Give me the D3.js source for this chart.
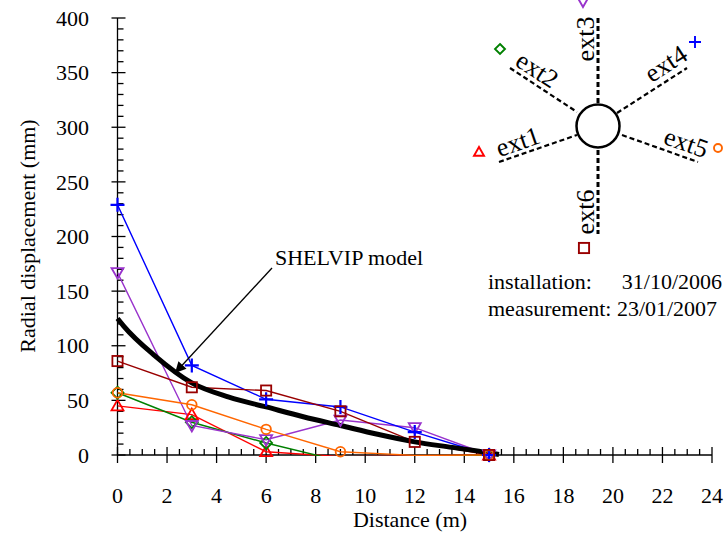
<!DOCTYPE html>
<html>
<head>
<meta charset="utf-8">
<script src="https://cdn.jsdelivr.net/npm/d3@7"></script>
<style>
  html, body { margin: 0; padding: 0; background: #fff; }
  svg { display: block; }
  text { font-family: "Liberation Serif", "Times New Roman", serif; fill: #000; }
</style>
</head>
<body>
<div id="chart"></div>
<script>
// ---------- data ----------
const distances = [0, 3, 6, 9, 12, 15];
const ext1 = [45, 37, 3, -1.5, -1, 0];
const ext2 = [57, 30, 11, -5.5, -2, 0];
const ext3 = [167, 27, 14, 32, 25, 0];
const ext4 = [229, 82, 51, 44, 21, 0];
const ext5 = [57, 46, 23.5, 3, -0.3, 0];
const ext6 = [86, 62, 59, 40, 12, 0];
const seriesNames = ["ext1", "ext2", "ext3", "ext4", "ext5", "ext6"];
const modelX = [0, 0.25, 1.5, 3, 4.5, 6, 7.5, 9, 10.5, 12, 13.5, 15, 15.4];
const modelY = [125, 118, 91, 66, 53, 44, 35, 27, 19, 12, 7, 2, 0.5];
const xTicks = [0, 2, 4, 6, 8, 10, 12, 14, 16, 18, 20, 22, 24];
const yTicks = [0, 50, 100, 150, 200, 250, 300, 350, 400];
const installation = "31/10/2006";
const measurement = "23/01/2007";

// ---------- styles ----------
const colors = { ext1: "#ff0000", ext2: "#008000", ext3: "#9933cc", ext4: "#0000ff", ext5: "#ff6600", ext6: "#990000" };
const shapes = { ext1: "triUp", ext2: "diamond", ext3: "triDown", ext4: "plus", ext5: "circle", ext6: "square" };
const values = { ext1, ext2, ext3, ext4, ext5, ext6 };

const W = 724, H = 533;
const svg = d3.select("#chart").append("svg").attr("width", W).attr("height", H);

const x = d3.scaleLinear().domain([0, 24]).range([117.5, 712]);
const y = d3.scaleLinear().domain([0, 400]).range([455, 18]);

// ---------- axes ----------
const ax = svg.append("g").attr("stroke", "#000").attr("stroke-width", 1.3);
ax.append("line").attr("x1", x(0)).attr("x2", x(0)).attr("y1", y(0)).attr("y2", y(400));
ax.append("line").attr("x1", x(0)).attr("x2", x(24)).attr("y1", y(0)).attr("y2", y(0));
ax.selectAll(".ym").data(d3.range(0, 401, 10).filter(v => v % 50 !== 0)).enter().append("line")
  .attr("x1", x(0)).attr("x2", x(0) + 6).attr("y1", d => y(d)).attr("y2", d => y(d));
ax.selectAll(".yM").data(yTicks).enter().append("line")
  .attr("x1", x(0) - 6).attr("x2", x(0) + 8).attr("y1", d => y(d)).attr("y2", d => y(d));
ax.selectAll(".xm").data(d3.range(0, 24.01, 0.5).filter(v => v % 2 !== 0)).enter().append("line")
  .attr("x1", d => x(d)).attr("x2", d => x(d)).attr("y1", y(0)).attr("y2", y(0) - 6);
ax.selectAll(".xM").data(xTicks).enter().append("line")
  .attr("x1", d => x(d)).attr("x2", d => x(d)).attr("y1", y(0) - 8).attr("y2", y(0) + 8);

svg.append("g").selectAll("text").data(yTicks).enter().append("text")
  .attr("x", 89).attr("y", d => y(d)).attr("dy", "0.35em").attr("text-anchor", "end")
  .attr("font-size", 22).text(d => d);
svg.append("g").selectAll("text").data(xTicks).enter().append("text")
  .attr("x", d => x(d)).attr("y", 503).attr("text-anchor", "middle")
  .attr("font-size", 22).text(d => d);

svg.append("text").attr("x", 410).attr("y", 527).attr("text-anchor", "middle")
  .attr("font-size", 22).text("Distance (m)");
svg.append("text").attr("transform", "translate(35,236) rotate(-90)").attr("text-anchor", "middle")
  .attr("font-size", 22).text("Radial displacement (mm)");

// ---------- clip ----------
svg.append("clipPath").attr("id", "plotclip").append("rect")
  .attr("x", x(0)).attr("y", 0).attr("width", x(24) - x(0)).attr("height", y(0) + 1);

// ---------- series ----------
const line = d3.line().x(d => x(d[0])).y(d => y(d[1]));
const gLines = svg.append("g").attr("clip-path", "url(#plotclip)");
seriesNames.forEach(n => {
  const pts = distances.map((dd, i) => [dd, values[n][i]]);
  gLines.append("path").attr("d", line(pts)).attr("fill", "none")
    .attr("stroke", colors[n]).attr("stroke-width", 1.4);
});

// model curve
const modelLine = d3.line().x(d => x(d[0])).y(d => y(d[1])).curve(d3.curveMonotoneX);
svg.append("path").attr("d", modelLine(modelX.map((v, i) => [v, modelY[i]])))
  .attr("fill", "none").attr("stroke", "#000").attr("stroke-width", 5).attr("stroke-linecap", "butt");

function marker(g, shape, cx, cy, s, color, sw) {
  const h = s / 2;
  let el;
  if (shape === "circle") el = g.append("circle").attr("cx", cx).attr("cy", cy).attr("r", h * 0.8);
  else if (shape === "square") el = g.append("rect").attr("x", cx - h * 0.85).attr("y", cy - h * 0.85).attr("width", s * 0.85).attr("height", s * 0.85);
  else if (shape === "triUp") el = g.append("path").attr("d", `M${cx},${cy - h}L${cx + h},${cy + h * 0.75}L${cx - h},${cy + h * 0.75}Z`);
  else if (shape === "triDown") el = g.append("path").attr("d", `M${cx},${cy + h}L${cx + h},${cy - h * 0.75}L${cx - h},${cy - h * 0.75}Z`);
  else if (shape === "diamond") el = g.append("path").attr("d", `M${cx},${cy - h}L${cx + h},${cy}L${cx},${cy + h}L${cx - h},${cy}Z`);
  else if (shape === "plus") el = g.append("path").attr("d", `M${cx - h},${cy}H${cx + h}M${cx},${cy - h}V${cy + h}`);
  el.attr("fill", "none").attr("stroke", color).attr("stroke-width", sw);
}

const gMarks = svg.append("g");
seriesNames.forEach(n => {
  distances.forEach((dd, i) => {
    const v = values[n][i];
    if (v < 0) return;
    marker(gMarks, shapes[n], x(dd), y(v), shapes[n] === "plus" ? 14 : 12, colors[n], shapes[n] === "plus" ? 2.2 : 1.8);
  });
});

// ---------- arrow annotation ----------
svg.append("defs").append("marker").attr("id", "ah").attr("viewBox", "0 0 10 10")
  .attr("refX", 10).attr("refY", 5).attr("markerWidth", 16).attr("markerHeight", 11)
  .attr("markerUnits", "userSpaceOnUse").attr("orient", "auto")
  .append("path").attr("d", "M0,0L10,5L0,10Z").attr("fill", "#000");
svg.append("line").attr("x1", 272).attr("y1", 268).attr("x2", 175).attr("y2", 373)
  .attr("stroke", "#000").attr("stroke-width", 1.3).attr("marker-end", "url(#ah)");
svg.append("text").attr("x", 275).attr("y", 265).attr("font-size", 22).text("SHELVIP model");

// ---------- dates ----------
svg.append("text").attr("x", 488).attr("y", 289).attr("font-size", 22).text("installation:");
svg.append("text").attr("x", 722).attr("y", 289).attr("text-anchor", "end").attr("font-size", 22).text(installation);
svg.append("text").attr("x", 488).attr("y", 316).attr("font-size", 22).text("measurement: " + measurement);

// ---------- extensometer diagram ----------
const dg = svg.append("g");
const arms = [
  { n: "ext1", x1: 499, y1: 162, x2: 577, y2: 135, w: 2.2, lx: 518, ly: 142, rot: -19, mx: 479, my: 152 },
  { n: "ext2", x1: 510, y1: 68, x2: 577, y2: 112, w: 2.2, lx: 537, ly: 70, rot: 33, mx: 500, my: 49 },
  { n: "ext3", x1: 598, y1: 18, x2: 598, y2: 104, w: 3, lx: 586, ly: 39, rot: -90, mx: 583, my: 2 },
  { n: "ext4", x1: 617, y1: 113, x2: 687, y2: 68, w: 2.2, lx: 666, ly: 64, rot: -33, mx: 695, my: 42 },
  { n: "ext5", x1: 622, y1: 135, x2: 698, y2: 162, w: 2.2, lx: 686, ly: 143, rot: 19, mx: 718, my: 148 },
  { n: "ext6", x1: 598, y1: 150, x2: 598, y2: 234, w: 3, lx: 586, ly: 212, rot: -90, mx: 584, my: 248 }
];
arms.forEach(a => {
  dg.append("line").attr("x1", a.x1).attr("y1", a.y1).attr("x2", a.x2).attr("y2", a.y2)
    .attr("stroke", "#000").attr("stroke-width", a.w).attr("stroke-dasharray", "5,3");
  dg.append("text").attr("transform", `translate(${a.lx},${a.ly}) rotate(${a.rot})`)
    .attr("text-anchor", "middle").attr("dy", "0.32em").attr("font-size", 26).text(a.n);
  const ms = shapes[a.n] === "plus" ? 12 : (shapes[a.n] === "square" ? 12 : 10);
  marker(dg, shapes[a.n], a.mx, a.my, ms, colors[a.n], 1.9);
});
dg.append("circle").attr("cx", 598).attr("cy", 126).attr("r", 21.5)
  .attr("fill", "#fff").attr("stroke", "#000").attr("stroke-width", 2.5);
</script>
</body>
</html>
